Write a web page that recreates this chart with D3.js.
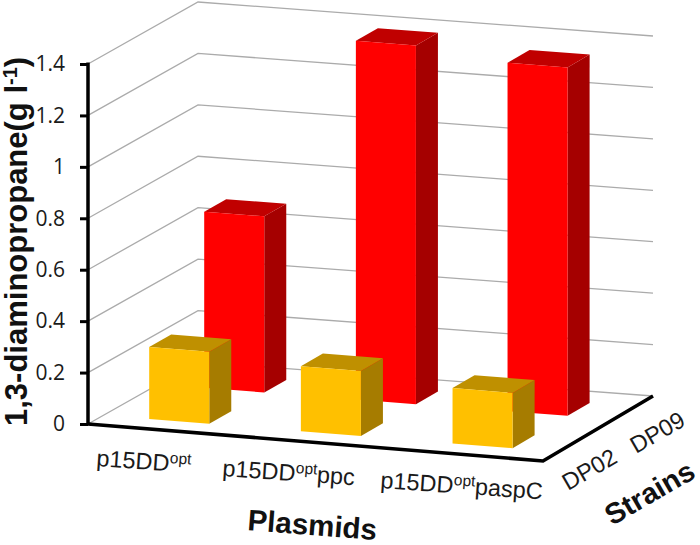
<!DOCTYPE html>
<html><head><meta charset="utf-8">
<script src="https://cdnjs.cloudflare.com/ajax/libs/d3/7.8.5/d3.min.js"></script>
<style>html,body{margin:0;padding:0;background:#fff;overflow:hidden}svg{display:block}</style>
</head><body><svg id="c" width="700" height="545" viewBox="0 0 700 545"></svg>
<script>
const plasmids = ["p15DDopt","p15DDoptppc","p15DDoptpaspC"];
const strains = ["DP09","DP02"];
const dp09Values = [0.685,1.395,1.355];
const dp02Values = [0.28,0.253,0.215];
const yTicks = [0,0.2,0.4,0.6,0.8,1,1.2,1.4];

const svg = d3.select("#c");
const yS = d3.scaleLinear().domain([0,1.4]).range([424,64]);
const uS = d3.scaleBand().domain(plasmids).range([0,1]).paddingInner(0.604).paddingOuter(0.302);
const vS = d3.scaleBand().domain(["DP02","DP09"]).range([-0.01,0.99]).paddingInner(0.6).paddingOuter(0.3);
const ox = 88, ux = 455, vx = 110, uy = 37, vy = -62, persp = -3;
function P(u,v,val){
  return [ox + ux*u + vx*v, yS(val) + u*(uy + persp*v) + vy*v];
}
const pathOf = pts => d3.line()(pts) + "Z";

const grid = svg.append("g");
yTicks.forEach(t=>{
  grid.append("path").attr("d", d3.line()([P(0,0,t),P(0,1,t),P(1,1,t)]))
    .attr("fill","none").attr("stroke","#ababab").attr("stroke-width",1.3);
});

const colors = {
  DP09:{front:"#ff0000",side:"#a50000",top:"#c00000"},
  DP02:{front:"#ffc000",side:"#a67c00",top:"#bf9000"}
};
function drawBars(strain, values){
  const g = svg.append("g");
  const c = colors[strain];
  plasmids.forEach((p,i)=>{
    const u0=uS(p),u1=u0+uS.bandwidth(),v0=vS(strain),v1=v0+vS.bandwidth(),h=values[i];
    g.append("path").attr("d",pathOf([P(u1,v0,0),P(u1,v1,0),P(u1,v1,h),P(u1,v0,h)])).attr("fill",c.side);
    g.append("path").attr("d",pathOf([P(u0,v0,h),P(u1,v0,h),P(u1,v1,h),P(u0,v1,h)])).attr("fill",c.top);
    g.append("path").attr("d",pathOf([P(u0,v0,0),P(u1,v0,0),P(u1,v0,h),P(u0,v0,h)])).attr("fill",c.front);
  });
}
drawBars("DP09",dp09Values);
drawBars("DP02",dp02Values);

// axes
const axis = svg.append("g").attr("transform","translate(88,0)")
  .call(d3.axisLeft(yS).tickValues(yTicks).tickFormat(d=>String(d)).tickSize(8).tickPadding(15));
axis.select(".domain").attr("stroke","#000").attr("stroke-width",3.5).attr("d","M0,62.5V425");
axis.selectAll(".tick line").attr("stroke","#000").attr("stroke-width",3);
axis.selectAll(".tick text").attr("font-family","'Open Sans'").attr("font-size",21).attr("fill","#1a1a1a");

svg.append("path").attr("d",d3.line()([P(0,0,0),P(1,0,0),P(1,1,0)]))
  .attr("fill","none").attr("stroke","#000").attr("stroke-width",3.6).attr("stroke-linejoin","miter");

// labels
const labelFont="'Liberation Sans'";
const plasmidPos = [[96,466],[222,476],[380,488]];
plasmids.forEach((p,i)=>{
  const t = svg.append("text").attr("transform",`translate(${plasmidPos[i]}) rotate(4)`)
    .attr("font-family",labelFont).attr("font-size",23.5).attr("fill","#1a1a1a");
  const idx = p.indexOf("opt");
  t.append("tspan").text(p.slice(0,idx));
  t.append("tspan").attr("dy",-8).attr("font-size",15.5).text("opt");
  const rest=p.slice(idx+3);
  if(rest) t.append("tspan").attr("dy",8).text(rest);
});
const strainPos = {DP02:[568,491],DP09:[636,454]};
strains.forEach(s=>{
  svg.append("text").attr("transform",`translate(${strainPos[s]}) rotate(-30)`)
    .attr("font-family",labelFont).attr("font-size",23.5).attr("fill","#1a1a1a").text(s);
});
svg.append("text").attr("transform","translate(247,530) rotate(4.4)")
  .attr("font-family",labelFont).attr("font-weight","bold").attr("font-size",29.5).attr("fill","#111").text("Plasmids");
svg.append("text").attr("transform","translate(612,526) rotate(-30)")
  .attr("font-family",labelFont).attr("font-weight","bold").attr("font-size",29).attr("fill","#111").text("Strains");
const yt = svg.append("text").attr("transform","translate(27,426) rotate(-90)")
  .attr("font-family",labelFont).attr("font-weight","bold").attr("font-size",31).attr("fill","#111");
yt.append("tspan").text("1,3-diaminopropane(g l");
yt.append("tspan").attr("dy",-10).attr("font-size",20).text("-1");
yt.append("tspan").attr("dy",10).text(")");
</script></body></html>
